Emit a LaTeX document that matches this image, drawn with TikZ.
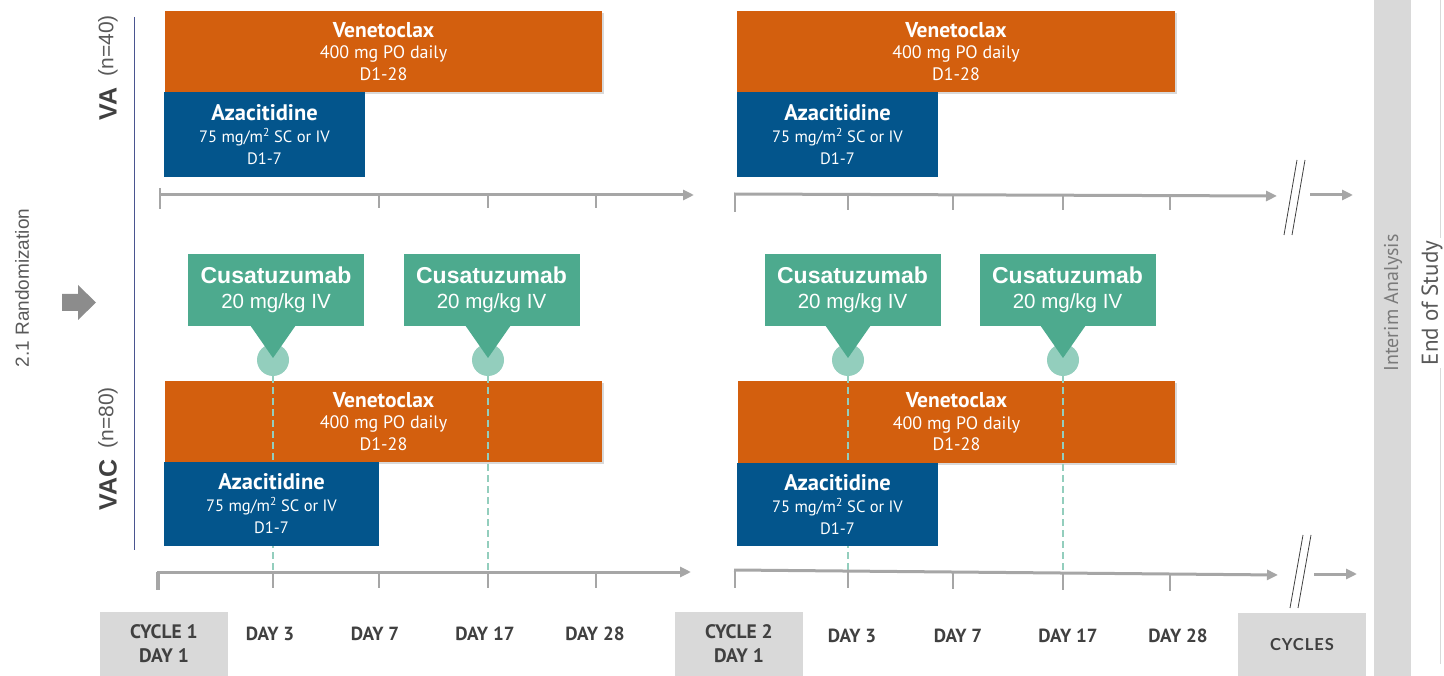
\documentclass[tikz,border=0pt]{standalone}
\usepackage{fontspec}
\setmainfont{PT Sans}
\newfontfamily\arialf{Liberation Sans}
\newfontfamily\latof{Lato}
\usetikzlibrary{arrows.meta,shadows}
\definecolor{veno}{HTML}{D35F0E}
\definecolor{azab}{HTML}{03558C}
\definecolor{cusa}{HTML}{4DAA8E}
\definecolor{cusal}{HTML}{93CEBD}
\definecolor{lgray}{HTML}{D9D9D9}
\definecolor{tgray}{HTML}{A6A6A6}
\definecolor{dgray}{HTML}{404040}
\definecolor{mgray}{HTML}{595959}
\definecolor{navyl}{HTML}{4A5590}
\begin{document}
\begin{tikzpicture}[x=1pt,y=-1pt,
  venbox/.style={fill=veno,text=white,align=center,inner sep=0pt,minimum height=81pt,
    drop shadow={opacity=0.3,shadow xshift=2pt,shadow yshift=-2pt},
    font=\fontsize{18}{21.5}\selectfont},
  azabox/.style={fill=azab,text=white,align=center,inner sep=0pt,
    font=\fontsize{16.5}{22}\selectfont},
  cusabox/.style={fill=cusa,text=white,align=center,inner sep=0pt,minimum width=176pt,minimum height=72pt,
    font=\arialf\fontsize{20.5}{25}\selectfont},
  dot/.style={circle,fill=cusal,minimum size=32pt,inner sep=0pt},
  tline/.style={draw=tgray,line width=3pt,-{Triangle[length=11pt,width=10pt]}},
  tick/.style={draw=tgray,line width=2.5pt},
  dashv/.style={draw=cusal,line width=2pt,dash pattern=on 7pt off 4pt},
  brk/.style={draw=dgray,line width=0.8pt},
  armlbl/.style={rotate=90,anchor=west,text=dgray,inner sep=0pt,font=\arialf\bfseries\fontsize{25}{26}\selectfont},
  nlbl/.style={rotate=90,anchor=west,text=mgray,inner sep=0pt,font=\arialf\fontsize{21}{22}\selectfont},
  lblbox/.style={fill=lgray,text=dgray,align=center,inner sep=0pt,minimum width=128pt,minimum height=64pt,
    font=\bfseries\fontsize{19.5}{24}\selectfont},
  daylbl/.style={text=dgray,inner sep=0pt,font=\bfseries\fontsize{19}{20}\selectfont}
]
\useasboundingbox (0,0) rectangle (1444,676);

% right bars
\fill[lgray] (1374,0) rectangle (1411,676);
\draw[lgray,line width=1pt] (1440,0) -- (1440,664);
\node[rotate=90,text=mgray!80,font=\fontsize{20}{21}\selectfont] (ia) at (1393,303) {Interim Analysis};
\node[rotate=90,fill=white,text=mgray,inner sep=3pt,font=\fontsize{23}{24}\selectfont] (eos) at (1432,303) {End of Study};

% left labels
\draw[navyl,line width=0.8pt] (134,17) -- (134,550);
\node[rotate=90,text=mgray,font=\arialf\fontsize{19}{20}\selectfont] (rand) at (22,288) {2.1 Randomization};
\fill[gray!90] (62,294) -- (78,294) -- (78,285) -- (96,302.5) -- (78,320) -- (78,311) -- (62,311) -- cycle;
\node[armlbl] (va) at (108,121) {VA};
\node[nlbl] (n40) at ([yshift=11pt]va.east) {(n=40)};
\node[armlbl] (vac) at (108,511) {VAC};
\node[nlbl] (n80) at ([yshift=11pt]vac.east) {(n=80)};

% ---------- VA arm ----------
\node[venbox,minimum width=437pt] (v1) at (383.5,51.5)
  {{\bfseries\fontsize{21.5}{21.5}\selectfont Venetoclax}\\400 mg PO daily\\D1-28};
\node[venbox,minimum width=438pt] (v2) at (956,51.5)
  {{\bfseries\fontsize{21.5}{21.5}\selectfont Venetoclax}\\400 mg PO daily\\D1-28};
\node[azabox,minimum width=201pt,minimum height=85pt] (a1) at (264.5,134.5)
  {{\bfseries\fontsize{22.5}{22}\selectfont Azacitidine}\\75 mg/m\textsuperscript{2} SC or IV\\D1-7};
\node[azabox,minimum width=201pt,minimum height=85pt] (a2) at (837.5,134.5)
  {{\bfseries\fontsize{22.5}{22}\selectfont Azacitidine}\\75 mg/m\textsuperscript{2} SC or IV\\D1-7};

% timelines VA
\coordinate (t1s) at (159,195); \coordinate (t1e) at (694,195);
\draw[tline] (t1s) -- (t1e);
\draw[tick] (160,188) -- (160,209);
\foreach \x in {379,488,596} \draw[tick] (\x,195) -- (\x,208);
\coordinate (t2s) at (734,194); \coordinate (t2e) at (1277,196);
\draw[tline] (t2s) -- (t2e);
\draw[tick] (735,193) -- (735,212);
\foreach \x in {848,953,1063,1170} \draw[tick] (\x,195) -- (\x,210);
\draw[brk] (1284,235) -- (1297,160);
\draw[brk] (1292,235) -- (1305,160);
\coordinate (t3s) at (1310,195); \coordinate (t3e) at (1353,195);
\draw[tline] (t3s) -- (t3e);

% ---------- VAC arm ----------
\node[venbox,minimum width=437pt] (v3) at (383.5,421.5)
  {{\bfseries\fontsize{21.5}{21.5}\selectfont Venetoclax}\\400 mg PO daily\\D1-28};
\node[venbox,minimum width=437pt,minimum height=82pt] (v4) at (956.5,422)
  {{\bfseries\fontsize{21.5}{21.5}\selectfont Venetoclax}\\400 mg PO daily\\D1-28};

% timelines VAC
\coordinate (b1s) at (157,572); \coordinate (b1e) at (691,572);
\coordinate (b2s) at (734,570); \coordinate (b2e) at (1278,575);

% cusatuzumab callouts
\foreach \n/\bx/\tx in {1/276/273, 2/491.5/488, 3/852.5/848, 4/1067.5/1063}{
  \node[dot] (ci\n) at (\tx,360) {};
  \fill[cusa] (\tx-23,325) -- (\tx+23,325) -- (\tx,358) -- cycle;
  \node[cusabox] (cu\n) at (\bx,290) {{\bfseries\fontsize{23}{25}\selectfont Cusatuzumab}\\20 mg/kg IV};
}
\draw[dashv] (ci1.south) -- (ci1.south |- b1s);
\draw[dashv] (ci2.south) -- (ci2.south |- b1s);
\draw[dashv] (ci3.south) -- (ci3.south |- b2s);
\draw[dashv] (ci4.south) -- (ci4.south |- b2s);

\node[azabox,minimum width=215pt,minimum height=84pt] (a3) at (271.5,504)
  {{\bfseries\fontsize{22.5}{22}\selectfont Azacitidine}\\75 mg/m\textsuperscript{2} SC or IV\\D1-7};
\node[azabox,minimum width=201pt,minimum height=83pt] (a4) at (837.5,504.5)
  {{\bfseries\fontsize{22.5}{22}\selectfont Azacitidine}\\75 mg/m\textsuperscript{2} SC or IV\\D1-7};

\draw[tline] (b1s) -- (b1e);
\draw[tick,line width=3.5pt] (158,572) -- (158,590);
\foreach \x in {273,379,488,596} \draw[tick] (\x,572) -- (\x,588);
\draw[tline] (b2s) -- (b2e);
\draw[tick] (735,569) -- (735,588);
\draw[tick] (848,571) -- (848,588);
\draw[tick] (953,572) -- (953,589);
\draw[tick] (1063,573) -- (1063,590);
\draw[tick] (1170,574) -- (1170,591);
\draw[brk] (1290,608) -- (1303,535);
\draw[brk] (1298,608) -- (1311,535);
\coordinate (b3s) at (1314,574); \coordinate (b3e) at (1357,574);
\draw[tline] (b3s) -- (b3e);

% ---------- bottom labels ----------
\node[lblbox] (c1) at (164,644) {CYCLE 1\\DAY 1};
\node[lblbox] (c2) at (739,644) {CYCLE 2\\DAY 1};
\node[lblbox,font=\latof\bfseries\fontsize{16.5}{18}\selectfont] (cyc) at (1302,645) {\addfontfeatures{LetterSpace=6}CYCLES};
\node[daylbl] (d13) at (270,634) {DAY 3};
\node[daylbl] (d17) at (375,634) {DAY 7};
\node[daylbl] (d117) at (485,634) {DAY 17};
\node[daylbl] (d128) at (595,634) {DAY 28};
\node[daylbl] (d23) at (852,636) {DAY 3};
\node[daylbl] (d27) at (958,636) {DAY 7};
\node[daylbl] (d217) at (1068,636) {DAY 17};
\node[daylbl] (d228) at (1178,636) {DAY 28};
\end{tikzpicture}
\end{document}
